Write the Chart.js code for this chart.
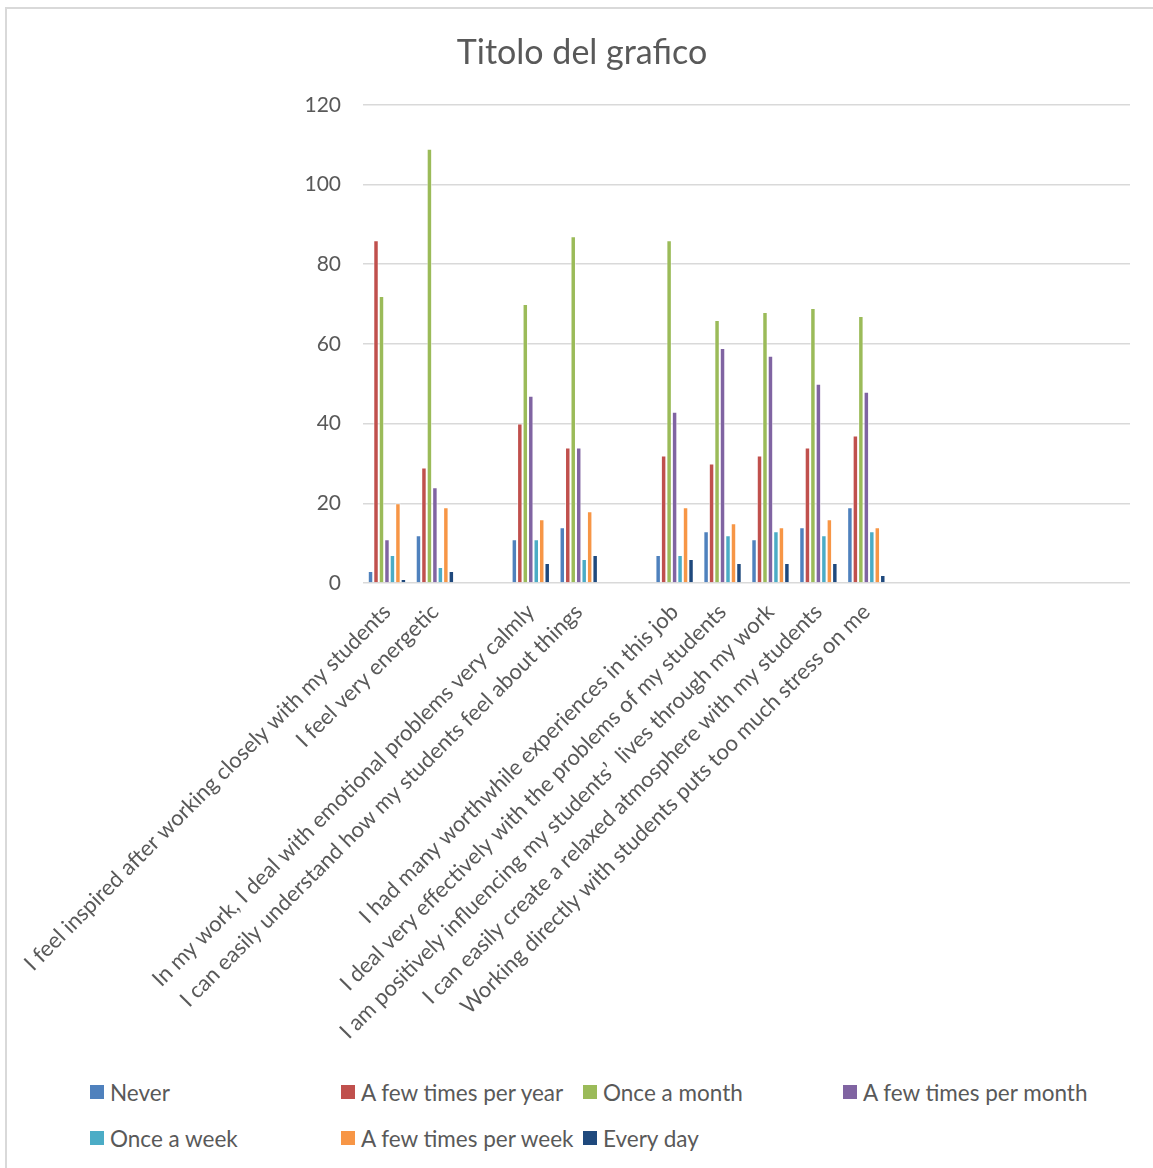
<!DOCTYPE html>
<html>
<head>
<meta charset="utf-8">
<title>Titolo del grafico</title>
<script src="https://cdn.jsdelivr.net/npm/chart.js@4.4.1/dist/chart.umd.min.js"></script>
<style>
  html, body { margin: 0; padding: 0; background: #fff; overflow: hidden; }
  #frame { position: absolute; left: 5px; top: 7px; width: 1200px; height: 1200px;
           border-left: 2px solid #d9d9d9; border-top: 2px solid #d9d9d9; }
  #chartCanvas { position: absolute; left: 0; top: 0; }
  #legend { position: absolute; left: 90px; top: 1069px; display: grid;
            grid-template-columns: 251px 242px 260px 260px; grid-auto-rows: 46px;
            font-family: Lato, sans-serif; font-size: 22.5px; color: #595959; }
  .item { display: flex; align-items: center; white-space: nowrap; }
  .swatch { width: 14px; height: 14px; margin-right: 6px; flex: none; }
</style>
</head>
<body>
<div id="frame"></div>
<canvas id="chartCanvas" width="1153" height="1068"></canvas>
<div id="legend"></div>
<script>
// categories (empty strings are the blank slots on the axis)
const categories = [
  "I feel inspired after working closely with my students",
  "I feel very energetic",
  "",
  "In my work, I deal with emotional problems very calmly",
  "I can easily understand how my students feel about things",
  "",
  "I had many worthwhile experiences in this job",
  "I deal very effectively with the problems of my students",
  "I am positively influencing my students\u2019  lives through my work",
  "I can easily create a relaxed atmosphere with my students",
  "Working directly with students puts too much stress on me",
  "", "", "", "", ""
];

const never       = [3, 12, null, 11, 14, null, 7, 13, 11, 14, 19];
const fewPerYear  = [86, 29, null, 40, 34, null, 32, 30, 32, 34, 37];
const onceMonth   = [72, 109, null, 70, 87, null, 86, 66, 68, 69, 67];
const fewPerMonth = [11, 24, null, 47, 34, null, 43, 59, 57, 50, 48];
const onceWeek    = [7, 4, null, 11, 6, null, 7, 12, 13, 12, 13];
const fewPerWeek  = [20, 19, null, 16, 18, null, 19, 15, 14, 16, 14];
const everyDay    = [1, 3, null, 5, 7, null, 6, 5, 5, 5, 2];

const seriesNames = ["Never", "A few times per year", "Once a month", "A few times per month",
                     "Once a week", "A few times per week", "Every day"];
const seriesValues = [never, fewPerYear, onceMonth, fewPerMonth, onceWeek, fewPerWeek, everyDay];
const seriesColors = ["#4F81BD", "#C0504D", "#9BBB59", "#8064A2", "#4BACC6", "#F79646", "#1F497D"];

const yTicks = [0, 20, 40, 60, 80, 100, 120];

const textColor = "#595959";
const gridColor = "#d9d9d9";

const canvas = document.getElementById("chartCanvas");

const chart = new Chart(canvas, {
  type: "bar",
  data: {
    labels: categories,
    datasets: seriesNames.map((name, i) => ({
      label: name,
      data: seriesValues[i],
      backgroundColor: seriesColors[i],
      borderColor: "rgba(255,255,255,0.55)",
      borderWidth: 1,
      categoryPercentage: 0.8,
      barPercentage: 1
    }))
  },
  options: {
    responsive: false,
    animation: false,
    layout: { padding: { top: 0, right: 23, bottom: 0, left: 34 } },
    plugins: {
      legend: { display: false },
      tooltip: { enabled: false },
      title: {
        display: true,
        text: "Titolo del grafico",
        color: textColor,
        font: { family: "Lato", size: 34, weight: "normal" },
        padding: { top: 33, bottom: 31 }
      }
    },
    scales: {
      x: {
        grid: { display: false },
        border: { display: false },
        ticks: {
          autoSkip: false,
          maxRotation: 45,
          minRotation: 45,
          color: textColor,
          font: { family: "Lato", size: 22 },
          padding: 8
        },
        afterFit: (scale) => { scale.height = 1068 - 583; }
      },
      y: {
        min: yTicks[0],
        max: yTicks[yTicks.length - 1],
        afterBuildTicks: (scale) => { scale.ticks = yTicks.map(v => ({ value: v })); },
        ticks: {
          color: textColor,
          font: { family: "Lato", size: 21 },
          padding: 22
        },
        grid: { color: gridColor, lineWidth: 1.5, drawTicks: false },
        border: { display: false },
        afterFit: (scale) => { scale.width = 363 - 34; }
      }
    }
  }
});

// legend laid out in a 4-column grid like the original
const legendEl = document.getElementById("legend");
chart.data.datasets.forEach((ds) => {
  const item = document.createElement("div");
  item.className = "item";
  const sw = document.createElement("span");
  sw.className = "swatch";
  sw.style.background = ds.backgroundColor;
  const txt = document.createElement("span");
  txt.textContent = ds.label;
  item.appendChild(sw);
  item.appendChild(txt);
  legendEl.appendChild(item);
});
</script>
</body>
</html>
